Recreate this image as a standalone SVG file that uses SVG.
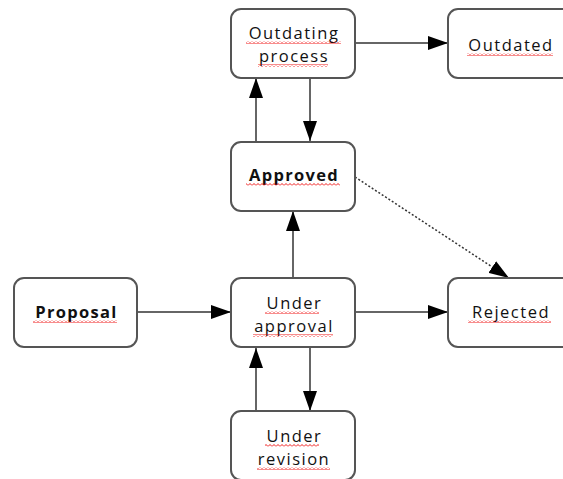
<svg xmlns="http://www.w3.org/2000/svg" width="563" height="479" viewBox="0 0 563 479">
<defs>
<marker id="ah" viewBox="0 0 20 14" refX="20" refY="7" markerWidth="20" markerHeight="14" markerUnits="userSpaceOnUse" orient="auto">
<path d="M0,0 L20,7 L0,14 Z" fill="#000"/>
</marker>
<pattern id="wave" x="0" y="0" width="4" height="3" patternUnits="userSpaceOnUse">
<path d="M0,2.5 L2,0.5 L4,2.5" fill="none" stroke="#e00" stroke-width="0.9"/>
</pattern>
</defs>
<style>
.box{fill:#fff;stroke:#555;stroke-width:2}
.lbl{font-family:"Open Sans","DejaVu Sans",sans-serif;font-size:16.5px;letter-spacing:1.5px;fill:#111;text-anchor:middle}
.b{font-weight:bold;letter-spacing:1.3px}
.edge{fill:none;stroke:#666;stroke-width:2;marker-end:url(#ah)}
.dot{stroke:#333;stroke-width:1.5;stroke-dasharray:2,2}
.sq{fill:url(#wave)}
</style>
<rect width="563" height="479" fill="#fff"/>
<g id="connectors">
<path class="edge" d="M355,43 L448,43"/>
<path class="edge" d="M256,141 L256,78"/>
<path class="edge" d="M310,78 L310,141"/>
<path class="edge" d="M293,278 L293,211"/>
<path class="edge dot" d="M355,177 L509,278"/>
<path class="edge" d="M137,312 L231,312"/>
<path class="edge" d="M355,312 L448,312"/>
<path class="edge" d="M256,411 L256,348"/>
<path class="edge" d="M310,348 L310,411"/>
</g>
<g id="outdating">
<rect class="box" x="231" y="9" width="124" height="69" rx="10"/>
<text class="lbl" x="294" y="39">Outdating</text>
<text class="lbl" x="294" y="61.5">process</text>
<rect class="sq" x="246" y="41" width="95" height="3"/>
<rect class="sq" x="258" y="64" width="70" height="3"/>
</g>
<g id="outdated">
<rect class="box" x="448" y="9" width="124" height="69" rx="10"/>
<text class="lbl" x="511" y="51">Outdated</text>
<rect class="sq" x="467" y="53" width="86" height="3"/>
</g>
<g id="approved">
<rect class="box" x="231" y="142" width="124" height="69" rx="10"/>
<text class="lbl b" x="294" y="181">Approved</text>
<rect class="sq" x="246" y="183" width="94" height="3"/>
</g>
<g id="proposal">
<rect class="box" x="14" y="278" width="123" height="69" rx="10"/>
<text class="lbl b" x="76.5" y="318">Proposal</text>
<rect class="sq" x="33" y="320" width="84" height="3"/>
</g>
<g id="under-approval">
<rect class="box" x="231" y="278" width="124" height="69" rx="10"/>
<text class="lbl" x="294.5" y="309">Under</text>
<text class="lbl" x="294" y="331.5">approval</text>
<rect class="sq" x="265" y="311" width="54" height="3"/>
<rect class="sq" x="253" y="334" width="80" height="3"/>
</g>
<g id="rejected">
<rect class="box" x="448" y="278" width="124" height="69" rx="10"/>
<text class="lbl" x="511" y="318">Rejected</text>
<rect class="sq" x="468" y="320" width="83" height="3"/>
</g>
<g id="under-revision">
<rect class="box" x="231" y="411" width="124" height="69" rx="10"/>
<text class="lbl" x="294.5" y="442">Under</text>
<text class="lbl" x="294" y="464.5">revision</text>
<rect class="sq" x="265" y="444" width="54" height="3"/>
<rect class="sq" x="257" y="467" width="73" height="3"/>
</g>
</svg>
